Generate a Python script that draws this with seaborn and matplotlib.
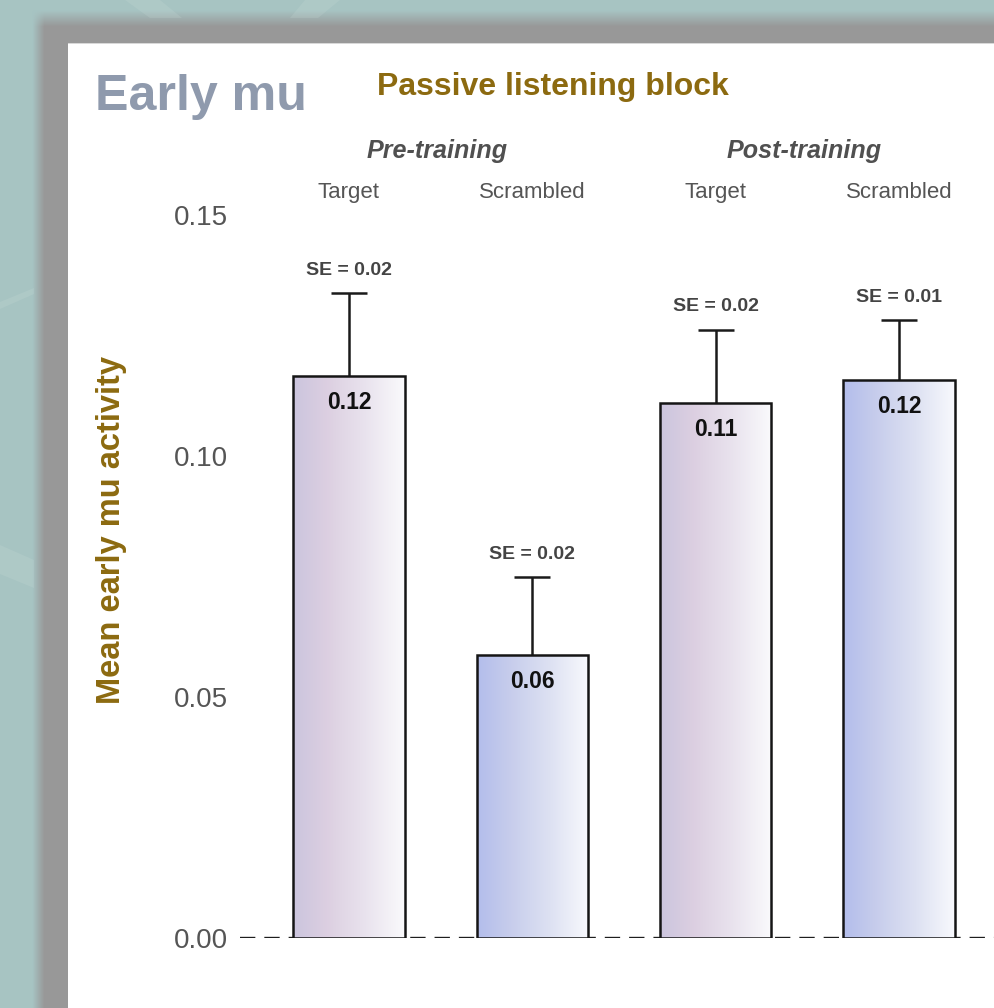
import numpy as np
import pandas as pd
import matplotlib
matplotlib.use("Agg")
import matplotlib.pyplot as plt
from matplotlib import font_manager as fm
from matplotlib.colors import LinearSegmentedColormap, to_rgb
import seaborn as sns

# ---- data -------------------------------------------------------------
phases = ["Pre-training", "Pre-training", "Post-training", "Post-training"]
stimuli = ["Target", "Scrambled", "Target", "Scrambled"]
mean_mu = [0.1166, 0.0587, 0.1110, 0.1158]
se_mu = [0.0172, 0.0162, 0.0152, 0.0124]
y_ticks = [0.00, 0.05, 0.10, 0.15]

conditions = [f"{p} {s}" for p, s in zip(phases, stimuli)]
df = pd.DataFrame({"condition": conditions, "phase": phases,
                   "stimulus": stimuli, "mean": mean_mu, "se": se_mu})

# ---- styling ----------------------------------------------------------
sns.set_theme(style="white")
plt.rcParams["font.family"] = ["Liberation Sans", "DejaVu Sans"]


def has_font(name):
    try:
        fm.findfont(fm.FontProperties(family=name), fallback_to_default=False)
        return True
    except Exception:
        return False


if has_font("Liberation Sans Narrow"):
    narrow_family, narrow_scale = ["Liberation Sans Narrow", "Liberation Sans"], 1.0
else:
    narrow_family, narrow_scale = ["Liberation Sans", "DejaVu Sans"], 0.86

GOLD = "#8c6a10"
GREY_TXT = "#555555"
TITLE_BLUE = "#8f9aad"

stim_colors = {
    "Target": ["#cbc5de", "#dccfe1", "#e9e3ee", "#fafafc"],
    "Scrambled": ["#b3bdeb", "#c7cdec", "#dde1f2", "#f8f9fd"],
}

W, H = 995, 1008
fig = plt.figure(figsize=(W / 100, H / 100), dpi=100)

# ---- slide background: teal, grey frame, white panel --------------------
bg = fig.add_axes([0, 0, 1, 1], zorder=-5)
bg.set_axis_off()
teal = np.array(to_rgb("#a7c4c3"))
grey = np.array(to_rgb("#989898"))
xs = np.arange(W)
ys = np.arange(H)
gx = np.clip((xs - 32) / 12.0, 0, 1)
gy = np.clip((ys - 10) / 16.0, 0, 1)
m = (gy[:, None] * gx[None, :])[..., None]
img = teal * (1 - m) + grey * m
img[44:, 68:] = 1.0
img[43, 68:] = 0.85
bg.imshow(img, extent=(0, W, H, 0), interpolation="bilinear", aspect="auto")
for poly in [
    [(125, 0), (160, 0), (182, 18), (150, 18)],
    [(305, 0), (340, 0), (318, 18), (290, 18)],
    [(0, 302), (34, 288), (34, 294), (0, 309)],
    [(0, 545), (34, 560), (34, 588), (0, 574)],
]:
    px, py = zip(*poly)
    bg.fill(px, py, color="#cfe0dc", alpha=0.18, lw=0)
bg.set_xlim(0, W)
bg.set_ylim(H, 0)

# ---- main axes ----------------------------------------------------------
left_px, right_px, bottom_px, top_px = 240, 995, 938, 215
ax = fig.add_axes([left_px / W, 1 - bottom_px / H,
                   (right_px - left_px) / W, (bottom_px - top_px) / H])
ax.set_facecolor("none")

palette = {c: stim_colors[s][0] for c, s in zip(conditions, stimuli)}
sns.barplot(data=df, x="condition", y="mean", hue="condition", order=conditions,
            palette=palette, width=0.606, legend=False, ax=ax,
            edgecolor="#151515", linewidth=1.8, errorbar=None, saturation=1)

xlim = (-0.5945, 3.5236)
ylim = (0.0, 0.15)

# gradient fill inside every bar
bars = list(ax.patches)
for patch, stim in zip(bars, stimuli):
    x0, w = patch.get_x(), patch.get_width()
    h = patch.get_height()
    cmap = LinearSegmentedColormap.from_list(
        stim, list(zip([0.0, 0.3, 0.65, 1.0], stim_colors[stim])))
    grad = np.linspace(0, 1, 256)[None, :]
    im = ax.imshow(grad, cmap=cmap, extent=(x0, x0 + w, 0, h),
                   aspect="auto", zorder=1, interpolation="bilinear")
    im.set_clip_path(patch)
    patch.set_facecolor("none")
    patch.set_zorder(3)

# zero reference line
ax.axhline(0, color="#1e1e1e", lw=1.7, ls=(0, (6.5, 3.8)), zorder=0.5)

# error bars (upper only) and labels
centers = [p.get_x() + p.get_width() / 2 for p in bars]
_, caps, _ = ax.errorbar(centers, mean_mu, yerr=[np.zeros(len(se_mu)), se_mu],
                         fmt="none", ecolor="#1a1a1a", elinewidth=1.8,
                         capsize=13, capthick=1.8, zorder=2)
caps[0].set_visible(False)  # no cap at the bar top
for xc, mval, se in zip(centers, mean_mu, se_mu):
    ax.annotate(f"{mval:.2f}", (xc, mval), xytext=(0, -19), textcoords="offset points",
                ha="center", va="center", fontsize=16.5, fontweight="bold",
                color="#111111", zorder=4)
    ax.annotate(f"SE = {se:.2f}", (xc, mval + se), xytext=(0, 16.5),
                textcoords="offset points", ha="center", va="center",
                fontsize=14, fontweight="bold", color="#444444", zorder=4)

# stimulus labels along the top, phase labels above them
ax.xaxis.tick_top()
ax.set_xticks(range(len(conditions)))
ax.set_xticklabels(stimuli, fontsize=16, color=GREY_TXT)
ax.tick_params(axis="x", length=0, pad=8.5)
ax.set_xlabel("")
for phase in dict.fromkeys(phases):
    idx = [i for i, p in enumerate(phases) if p == phase]
    xm = np.mean([centers[i] for i in idx])
    ax.text(xm - 0.02, 0.1632, phase, ha="center", va="center",
            fontsize=21 * narrow_scale, fontweight="bold", fontstyle="italic",
            color="#505050", family=narrow_family, clip_on=False)

ax.set_yticks(y_ticks)
ax.set_yticklabels([f"{t:.2f}" for t in y_ticks], fontsize=20, color=GREY_TXT)
ax.tick_params(axis="y", length=0, pad=8.6)
ax.set_ylabel("")
for s in ax.spines.values():
    s.set_visible(False)
ax.grid(False)
ax.set_xlim(*xlim)
ax.set_ylim(*ylim)

# ---- titles ---------------------------------------------------------------
fig.text(95 / W, 1 - 110 / H, "Early mu", ha="left", va="baseline",
         fontsize=42 * narrow_scale, fontweight="bold", color=TITLE_BLUE,
         family=narrow_family)
fig.text(377 / W, 1 - 95 / H, "Passive listening block", ha="left",
         va="baseline", fontsize=23, fontweight="bold", color=GOLD)
fig.text(112 / W, 1 - 530 / H, "Mean early mu activity", ha="center",
         va="center", rotation=90, fontsize=23.5, fontweight="bold", color=GOLD)

fig.savefig("out.png", dpi=100)
